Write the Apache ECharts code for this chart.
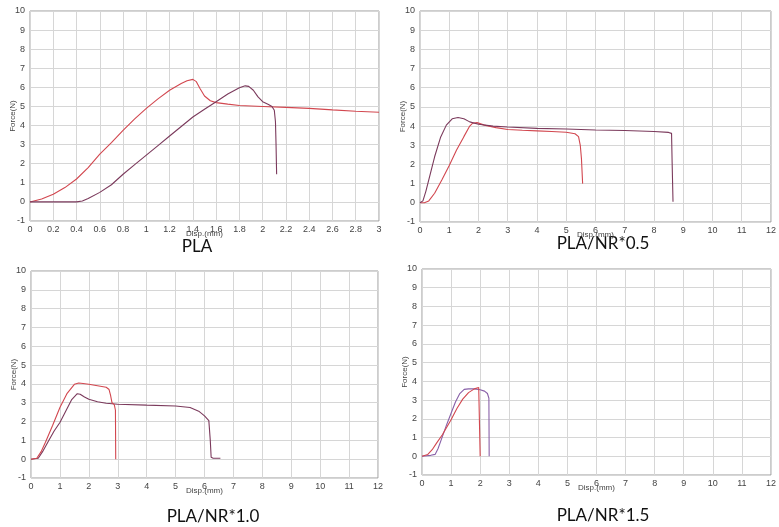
<!DOCTYPE html>
<html>
<head>
<meta charset="utf-8">
<script src="https://cdn.jsdelivr.net/npm/echarts@6/dist/echarts.min.js"></script>
<style>html,body{margin:0;padding:0;background:#fff;}#c{width:779px;height:527px;}</style>
</head>
<body>
<div id="c"></div>
<script>
// ---- data ----
const panelTitles = ['PLA', 'PLA/NR*0.5', 'PLA/NR*1.0', 'PLA/NR*1.5'];
const xMaxes = [3, 12, 12, 12];
const xIntervals = [0.2, 1, 1, 1];

const plaRed = [[0,0],[0.1,0.15],[0.2,0.4],[0.3,0.75],[0.4,1.2],[0.5,1.8],[0.6,2.5],[0.7,3.1],[0.8,3.75],[0.9,4.35],[1.0,4.9],[1.1,5.4],[1.2,5.85],[1.3,6.2],[1.35,6.35],[1.4,6.42],[1.43,6.3],[1.46,5.95],[1.5,5.55],[1.55,5.3],[1.6,5.2],[1.7,5.12],[1.8,5.05],[2.0,5.0],[2.2,4.95],[2.4,4.9],[2.6,4.82],[2.8,4.75],[3.0,4.7]];
const plaDark = [[0,0],[0.2,0],[0.4,0],[0.45,0.05],[0.5,0.18],[0.6,0.5],[0.7,0.9],[0.8,1.45],[0.9,1.95],[1.0,2.45],[1.1,2.95],[1.2,3.45],[1.3,3.95],[1.4,4.45],[1.5,4.85],[1.6,5.25],[1.7,5.65],[1.8,5.98],[1.85,6.08],[1.88,6.05],[1.92,5.85],[1.96,5.5],[2.0,5.25],[2.05,5.1],[2.08,5.0],[2.1,4.8],[2.11,4.2],[2.115,3.0],[2.12,1.45]];

const nr05Dark = [[0,0],[0.1,0.1],[0.2,0.6],[0.35,1.5],[0.5,2.4],[0.7,3.4],[0.9,4.05],[1.1,4.38],[1.3,4.45],[1.5,4.38],[1.7,4.22],[2.0,4.1],[2.5,4.0],[3,3.95],[4,3.88],[5,3.85],[6,3.8],[7,3.77],[8,3.72],[8.5,3.67],[8.6,3.62],[8.62,2.1],[8.65,0.05]];
const nr05Red = [[0,0],[0.15,0],[0.3,0.1],[0.5,0.5],[0.75,1.2],[1.0,1.95],[1.25,2.75],[1.5,3.45],[1.7,4.0],[1.8,4.15],[1.95,4.18],[2.2,4.05],[2.6,3.92],[3,3.82],[3.5,3.78],[4,3.75],[4.5,3.72],[5,3.68],[5.3,3.6],[5.42,3.45],[5.48,3.0],[5.52,2.3],[5.56,1.0]];

const nr10Red = [[0,0],[0.2,0.05],[0.35,0.4],[0.5,0.9],[0.75,1.8],[1.0,2.75],[1.25,3.5],[1.5,3.98],[1.65,4.05],[1.8,4.02],[2.0,3.98],[2.3,3.9],[2.6,3.82],[2.7,3.7],[2.75,3.4],[2.8,3.0],[2.88,2.9],[2.92,2.6],[2.93,0]];
const nr10Dark = [[0,0],[0.25,0.05],[0.4,0.4],[0.6,0.95],[0.8,1.5],[1.0,1.95],[1.2,2.55],[1.4,3.15],[1.6,3.48],[1.7,3.45],[1.85,3.3],[2.0,3.18],[2.3,3.05],[2.6,2.97],[3.0,2.92],[4,2.87],[5,2.83],[5.5,2.75],[5.8,2.55],[6.0,2.3],[6.15,2.05],[6.2,1.0],[6.23,0.1],[6.3,0.05],[6.55,0.05]];

const nr15Purple = [[0,0],[0.3,0.05],[0.45,0.1],[0.55,0.4],[0.7,1.05],[0.85,1.7],[1.0,2.3],[1.15,2.9],[1.3,3.35],[1.45,3.57],[1.6,3.6],[1.8,3.6],[2.0,3.55],[2.15,3.48],[2.25,3.35],[2.3,3.1],[2.31,0]];
const nr15Red = [[0,0],[0.2,0.1],[0.35,0.35],[0.5,0.7],[0.7,1.15],[0.85,1.55],[1.0,1.95],[1.2,2.55],[1.4,3.05],[1.6,3.4],[1.8,3.6],[1.95,3.67],[2.0,3.6],[2.0,0]];

// ---- layout ----
const grids = [
  {left: 30, top: 11, width: 349, height: 210},
  {left: 420, top: 11, width: 354, height: 211},
  {left: 31, top: 271, width: 347, height: 207},
  {left: 422, top: 269, width: 350, height: 206}
];
const titlePos = [[197, 247], [603, 244], [213, 517], [603, 516]];
const RED = '#d2474f', DARK = '#7b3a5c', PURPLE = '#8860a8';
const seriesSets = [
  [[plaRed, RED], [plaDark, DARK]],
  [[nr05Red, RED], [nr05Dark, DARK]],
  [[nr10Dark, DARK], [nr10Red, RED]],
  [[nr15Purple, PURPLE], [nr15Red, RED]]
];

const labelFont = {fontSize: 9, color: '#444', fontFamily: 'Liberation Sans, Arial, sans-serif'};
const gridLine = {show: true, lineStyle: {color: '#d6d6d6', width: 1}};

const option = {
  backgroundColor: '#fff',
  animation: false,
  grid: grids.map(g => Object.assign({show: true, borderColor: '#9a9a9a', borderWidth: 1, backgroundColor: '#fff'}, g)),
  xAxis: grids.map((g, i) => ({
    type: 'value', gridIndex: i, min: 0, max: xMaxes[i], interval: xIntervals[i],
    axisLine: {show: false}, axisTick: {show: false},
    axisLabel: Object.assign({margin: 4, showMaxLabel: true, showMinLabel: true}, labelFont),
    splitLine: gridLine,
    name: 'Disp.(mm)', nameLocation: 'middle', nameGap: 9, nameMoveOverlap: false,
    nameTextStyle: {fontSize: 8, color: '#444', fontFamily: 'Liberation Sans, Arial, sans-serif'}
  })),
  yAxis: grids.map((g, i) => ({
    type: 'value', gridIndex: i, min: -1, max: 10, interval: 1,
    axisLine: {show: false}, axisTick: {show: false},
    axisLabel: Object.assign({margin: 5}, labelFont),
    splitLine: gridLine,
    name: 'Force(N)', nameLocation: 'middle', nameGap: 13, nameRotate: 90, nameMoveOverlap: false,
    nameTextStyle: {fontSize: 8, color: '#444', fontFamily: 'Liberation Sans, Arial, sans-serif'}
  })),
  series: [],
  graphic: panelTitles.map((t, i) => ({
    type: 'text', x: titlePos[i][0], y: titlePos[i][1], silent: true,
    style: {text: t, align: 'center', verticalAlign: 'middle', textAlign: 'center', textVerticalAlign: 'middle',
            font: '17px Lato, "Open Sans", sans-serif', fill: '#111'}
  }))
};
seriesSets.forEach((set, i) => {
  set.forEach(([data, color]) => {
    option.series.push({
      type: 'line', xAxisIndex: i, yAxisIndex: i, data: data,
      showSymbol: false, symbol: 'none', smooth: false,
      lineStyle: {color: color, width: 1.1}, itemStyle: {color: color}
    });
  });
});
const chart = echarts.init(document.getElementById('c'), null, {renderer: 'canvas'});
chart.setOption(option);
</script>
</body>
</html>
